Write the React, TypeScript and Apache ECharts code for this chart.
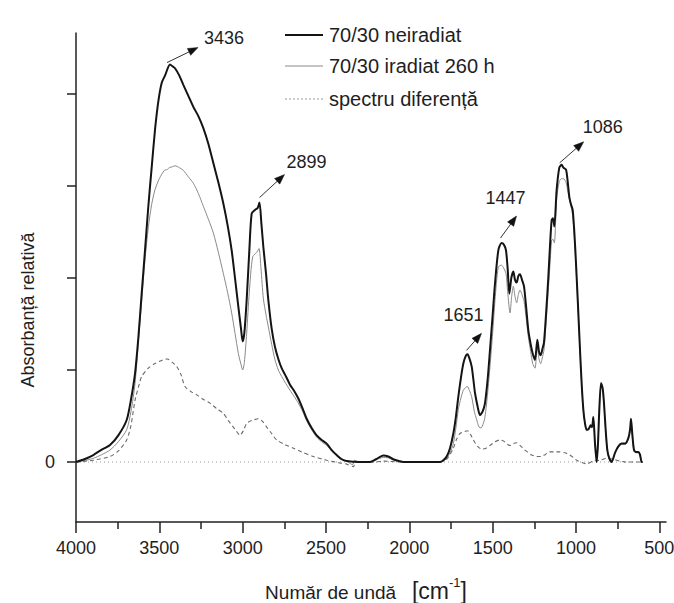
import React, { useEffect, useRef } from "react";
import * as echarts from "echarts";

// ---------- data (wavenumber cm-1 / relative absorbance, in axis tick units) ----------
const neiradiatWn = [4000, 3950, 3896, 3850, 3796, 3746, 3696, 3670, 3646, 3626, 3606, 3586, 3566, 3546, 3526, 3506, 3486, 3466, 3436, 3420, 3406, 3380, 3356, 3326, 3296, 3266, 3236, 3206, 3176, 3146, 3116, 3090, 3066, 3046, 3026, 3010, 3000, 2990, 2976, 2960, 2946, 2926, 2910, 2899, 2888, 2876, 2860, 2846, 2826, 2806, 2786, 2766, 2740, 2716, 2690, 2666, 2640, 2616, 2586, 2556, 2526, 2496, 2466, 2436, 2406, 2376, 2300, 2236, 2200, 2156, 2126, 2096, 2060, 2036, 1816, 1796, 1776, 1756, 1736, 1720, 1706, 1690, 1676, 1662, 1651, 1640, 1626, 1616, 1606, 1590, 1576, 1560, 1546, 1530, 1516, 1500, 1486, 1466, 1447, 1432, 1420, 1410, 1400, 1388, 1376, 1366, 1356, 1346, 1336, 1324, 1312, 1300, 1286, 1272, 1260, 1246, 1232, 1222, 1212, 1200, 1192, 1180, 1166, 1156, 1146, 1138, 1130, 1116, 1100, 1086, 1076, 1060, 1050, 1040, 1030, 1020, 1010, 1000, 988, 976, 966, 956, 946, 936, 924, 912, 904, 896, 886, 876, 868, 862, 850, 840, 832, 822, 812, 800, 786, 766, 746, 726, 706, 686, 676, 670, 662, 652, 640, 626, 616, 606, 600];
const neiradiatAbs = [0, 0.03, 0.076, 0.13, 0.185, 0.29, 0.457, 0.68, 0.96, 1.35, 1.83, 2.3, 2.78, 3.2, 3.61, 3.92, 4.12, 4.2, 4.32, 4.3, 4.28, 4.2, 4.1, 3.98, 3.86, 3.76, 3.63, 3.46, 3.25, 3.04, 2.81, 2.57, 2.3, 2.0, 1.69, 1.45, 1.31, 1.4, 1.76, 2.3, 2.7, 2.74, 2.76, 2.82, 2.6, 2.34, 2.05, 1.76, 1.45, 1.25, 1.12, 1.02, 0.93, 0.84, 0.77, 0.69, 0.58, 0.47, 0.37, 0.29, 0.24, 0.2, 0.13, 0.076, 0.03, 0.01, 0, 0, 0.03, 0.07, 0.06, 0.03, 0.01, 0, 0, 0.02, 0.06, 0.15, 0.31, 0.5, 0.71, 0.92, 1.07, 1.15, 1.17, 1.13, 1.04, 0.9, 0.75, 0.6, 0.51, 0.55, 0.64, 0.9, 1.22, 1.6, 1.94, 2.3, 2.38, 2.36, 2.3, 2.1, 1.83, 2.0, 2.07, 1.98, 1.95, 2.02, 2.04, 1.98, 1.91, 1.7, 1.43, 1.28, 1.18, 1.11, 1.33, 1.2, 1.16, 1.24, 1.3, 1.6, 2.01, 2.35, 2.63, 2.65, 2.56, 2.96, 3.2, 3.23, 3.2, 3.18, 3.05, 2.88, 2.8, 2.74, 2.5, 2.16, 1.7, 1.22, 0.85, 0.57, 0.42, 0.35, 0.36, 0.4, 0.38, 0.49, 0.2, 0, 0.2, 0.49, 0.86, 0.8, 0.64, 0.35, 0.13, 0.04, 0, 0.1, 0.17, 0.2, 0.2, 0.26, 0.35, 0.47, 0.3, 0.13, 0.11, 0.11, 0.08, 0, 0];

const iradiatWn = [4000, 3950, 3896, 3846, 3796, 3746, 3696, 3670, 3646, 3626, 3606, 3586, 3566, 3546, 3526, 3500, 3470, 3452, 3440, 3420, 3406, 3380, 3356, 3326, 3296, 3266, 3236, 3206, 3176, 3146, 3116, 3090, 3066, 3046, 3026, 3010, 3000, 2990, 2976, 2960, 2940, 2915, 2902, 2890, 2876, 2860, 2846, 2826, 2806, 2786, 2766, 2740, 2716, 2690, 2666, 2640, 2616, 2586, 2556, 2526, 2496, 2466, 2436, 2406, 2376, 2340, 2330, 2300, 2236, 2200, 2156, 2126, 2096, 2060, 2036, 1816, 1796, 1776, 1756, 1736, 1720, 1706, 1690, 1676, 1662, 1651, 1640, 1626, 1610, 1596, 1582, 1570, 1556, 1546, 1530, 1516, 1500, 1486, 1466, 1447, 1432, 1420, 1410, 1396, 1386, 1376, 1366, 1356, 1346, 1336, 1324, 1312, 1300, 1286, 1272, 1260, 1246, 1232, 1222, 1212, 1200, 1192, 1180, 1166, 1156, 1146, 1138, 1130, 1116, 1100, 1086, 1076, 1060, 1050, 1040, 1030, 1020, 1010, 1000, 988, 976, 966, 956, 946, 936, 924, 912, 904, 896, 886, 876, 868, 862, 850, 840, 832, 822, 812, 800, 786, 766, 746, 726, 706, 686, 676, 670, 662, 652, 640, 626, 616, 606, 600];
const iradiatAbs = [0, 0.015, 0.04, 0.08, 0.13, 0.22, 0.35, 0.55, 0.85, 1.3, 1.75, 2.2, 2.55, 2.8, 2.96, 3.08, 3.17, 3.18, 3.2, 3.21, 3.22, 3.2, 3.17, 3.1, 3.03, 2.92, 2.78, 2.64, 2.49, 2.28, 2.05, 1.84, 1.62, 1.4, 1.18, 1.06, 1.0, 1.08, 1.4, 1.85, 2.23, 2.28, 2.32, 2.1, 1.78, 1.6, 1.47, 1.28, 1.11, 1.0, 0.93, 0.85, 0.78, 0.71, 0.64, 0.55, 0.45, 0.35, 0.27, 0.22, 0.18, 0.12, 0.076, 0.035, 0.01, -0.03, 0.02, 0, 0, 0.025, 0.05, 0.045, 0.02, 0.005, 0, 0, 0.01, 0.04, 0.1, 0.2, 0.38, 0.57, 0.7, 0.78, 0.81, 0.82, 0.78, 0.71, 0.55, 0.46, 0.38, 0.37, 0.42, 0.49, 0.75, 1.04, 1.4, 1.76, 2.12, 2.14, 2.1, 2.05, 1.85, 1.62, 1.8, 1.91, 1.8, 1.73, 1.82, 1.87, 1.82, 1.75, 1.58, 1.36, 1.2, 1.07, 1.02, 1.25, 1.12, 1.07, 1.15, 1.22, 1.5, 1.87, 2.15, 2.41, 2.42, 2.38, 2.86, 3.05, 3.08, 3.08, 3.04, 2.95, 2.86, 2.78, 2.68, 2.45, 2.12, 1.68, 1.2, 0.84, 0.56, 0.41, 0.34, 0.35, 0.38, 0.37, 0.47, 0.2, 0, 0.19, 0.47, 0.84, 0.78, 0.62, 0.34, 0.12, 0.04, 0, 0.1, 0.16, 0.19, 0.19, 0.25, 0.33, 0.44, 0.28, 0.12, 0.1, 0.1, 0.07, 0, 0];

const diferentaWn = [4000, 3896, 3796, 3746, 3696, 3670, 3646, 3620, 3606, 3566, 3526, 3480, 3452, 3420, 3396, 3370, 3346, 3306, 3276, 3236, 3196, 3156, 3116, 3086, 3056, 3036, 3016, 2996, 2976, 2946, 2906, 2880, 2856, 2826, 2796, 2746, 2696, 2646, 2576, 2496, 2416, 2380, 2336, 2320, 2200, 2156, 2050, 1816, 1776, 1736, 1716, 1696, 1670, 1651, 1630, 1616, 1590, 1566, 1540, 1516, 1486, 1456, 1436, 1410, 1396, 1376, 1356, 1336, 1306, 1270, 1236, 1210, 1186, 1160, 1130, 1100, 1066, 1040, 1016, 996, 956, 936, 896, 856, 816, 776, 736, 700, 600];
const diferentaAbs = [0, 0.02, 0.06, 0.12, 0.24, 0.4, 0.67, 0.85, 0.93, 1.02, 1.07, 1.11, 1.12, 1.08, 1.04, 0.95, 0.82, 0.76, 0.73, 0.68, 0.64, 0.58, 0.53, 0.45, 0.38, 0.33, 0.29, 0.34, 0.42, 0.45, 0.47, 0.44, 0.38, 0.31, 0.24, 0.19, 0.15, 0.11, 0.06, 0.02, -0.01, -0.02, -0.05, 0, 0, 0.01, 0, 0, 0.03, 0.15, 0.25, 0.31, 0.33, 0.34, 0.29, 0.24, 0.17, 0.14, 0.15, 0.18, 0.22, 0.24, 0.23, 0.19, 0.18, 0.2, 0.21, 0.18, 0.13, 0.08, 0.06, 0.06, 0.08, 0.11, 0.11, 0.11, 0.1, 0.08, 0.05, 0.02, -0.01, -0.02, 0.01, 0.02, 0.04, 0.03, 0.01, 0, 0];

const baselineWn = [4000, 600];
const baselineAbs = [0, 0];

const seriesNames = ["70/30 neiradiat", "70/30 iradiat 260 h", "spectru diferență"];

const xMajorTicks = [4000, 3500, 3000, 2500, 2000, 1500, 1000, 500];
const xMinorTicks = [3750, 3250, 2750, 2250, 1750, 1250, 750];
const yTicks = [0, 1, 2, 3, 4];
const yLabels = [0];

const peakLabels = ["3436", "2899", "1651", "1447", "1086"];
const peakWn = [3436, 2899, 1651, 1447, 1086];

// ---------- styling ----------
const FONT = "'Liberation Sans', Arial, Helvetica, sans-serif";
const TXT = "#1e1e1e";
const AX = "#222";
const seriesColors = ["#141414", "#8a8a8a", "#6a6a6a"];
const seriesWidths = [2, 1, 1.1];
const seriesDash: any[] = ["solid", "solid", [4, 3]];
const legendDash: any[] = ["solid", "solid", [2, 2]];
const legendColors = ["#141414", "#8a8a8a", "#9a9a9a"];
// arrow start / tip / label offsets in px relative to each peak
const arrowStart = [[-3, -2], [0, -5], [-1, -4], [-1, -5], [-2, -2]];
const arrowTip = [[28, -17], [25, -28], [14, -21], [15, -27], [22, -23]];
const labelOff = [[54, -27], [47, -41], [-4, -39], [4, -45], [41, -38]];
const legendRows = [35, 66, 99];

const zip = (a: number[], b: number[]) => a.map((w, i) => [w, b[i]]);

export default function App() {
  const ref = useRef<HTMLDivElement>(null);
  useEffect(() => {
    if (!ref.current) return;
    const chart = echarts.init(ref.current, null, { renderer: "svg" });
    const lineSeries = (i: number, wn: number[], ab: number[], z: number) => ({
      name: seriesNames[i],
      type: "line",
      data: zip(wn, ab),
      showSymbol: false,
      symbol: "none",
      smooth: 0.25,
      z,
      lineStyle: { color: seriesColors[i], width: seriesWidths[i], type: seriesDash[i] },
      itemStyle: { color: seriesColors[i] },
      emphasis: { disabled: true },
    });
    chart.setOption({
      animation: false,
      backgroundColor: "#ffffff",
      textStyle: { fontFamily: FONT },
      grid: { left: 76, top: 33, width: 590, height: 489, containLabel: false, outerBoundsMode: "none" },
      xAxis: [
        {
          type: "value",
          inverse: true,
          min: 460,
          max: 4000,
          axisLine: { show: true, onZero: false, lineStyle: { color: AX, width: 1.5 } },
          axisTick: { show: true, inside: false, length: 11, customValues: xMajorTicks, lineStyle: { color: AX, width: 1.5 } },
          axisLabel: { customValues: xMajorTicks, formatter: (v: number) => String(v), fontSize: 18, color: TXT, margin: 17, fontFamily: FONT },
          splitLine: { show: false },
        },
        {
          type: "value",
          inverse: true,
          min: 460,
          max: 4000,
          position: "bottom",
          axisLine: { show: false, onZero: false },
          axisTick: { show: true, inside: false, length: 7, customValues: xMinorTicks, lineStyle: { color: AX, width: 1.5 } },
          axisLabel: { show: false },
          splitLine: { show: false },
        },
      ],
      yAxis: {
        type: "value",
        min: -0.652,
        max: 4.663,
        axisLine: { show: true, onZero: false, lineStyle: { color: AX, width: 1.5 } },
        axisTick: { show: true, inside: false, length: 9, customValues: yTicks, lineStyle: { color: AX, width: 1.5 } },
        axisLabel: { customValues: yLabels, formatter: (v: number) => String(v), fontSize: 18, color: TXT, margin: 21, fontFamily: FONT },
        splitLine: { show: false },
      },
      series: [
        {
          name: "baseline",
          type: "line",
          data: zip(baselineWn, baselineAbs),
          showSymbol: false,
          symbol: "none",
          z: 1,
          silent: true,
          lineStyle: { color: "#9a9a9a", width: 1, type: [1, 3] },
        },
        lineSeries(2, diferentaWn, diferentaAbs, 2),
        lineSeries(1, iradiatWn, iradiatAbs, 3),
        lineSeries(0, neiradiatWn, neiradiatAbs, 4),
      ],
    });

    const graphics: any[] = [];
    peakWn.forEach((w, i) => {
      const idx = neiradiatWn.indexOf(w);
      const v = neiradiatAbs[idx];
      const p = chart.convertToPixel({ xAxisIndex: 0, yAxisIndex: 0 }, [w, v]) as number[];
      const sx = p[0] + arrowStart[i][0];
      const sy = p[1] + arrowStart[i][1];
      const tx = p[0] + arrowTip[i][0];
      const ty = p[1] + arrowTip[i][1];
      const dx = tx - sx;
      const dy = ty - sy;
      const len = Math.sqrt(dx * dx + dy * dy);
      const ux = dx / len;
      const uy = dy / len;
      const hl = 10;
      const hw = 3.8;
      const bx = tx - ux * hl;
      const by = ty - uy * hl;
      graphics.push({
        type: "line",
        silent: true,
        z: 10,
        shape: { x1: sx, y1: sy, x2: bx + ux * 2, y2: by + uy * 2 },
        style: { stroke: "#333", lineWidth: 1 },
      });
      graphics.push({
        type: "polygon",
        silent: true,
        z: 10,
        shape: { points: [[tx, ty], [bx - uy * hw, by + ux * hw], [bx + uy * hw, by - ux * hw]] },
        style: { fill: "#111", stroke: "#111", lineWidth: 0.5 },
      });
      graphics.push({
        type: "text",
        silent: true,
        z: 10,
        x: p[0] + labelOff[i][0],
        y: p[1] + labelOff[i][1],
        style: { text: peakLabels[i], fontSize: 18, fill: TXT, fontFamily: FONT, align: "center", verticalAlign: "middle" },
      });
    });
    // legend
    seriesNames.forEach((name, i) => {
      const y = legendRows[i];
      graphics.push({
        type: "line",
        silent: true,
        z: 10,
        shape: { x1: 285, y1: y, x2: 323, y2: y },
        style: { stroke: legendColors[i], lineWidth: seriesWidths[i], lineDash: legendDash[i] === "solid" ? null : legendDash[i] },
      });
      graphics.push({
        type: "text",
        silent: true,
        z: 10,
        x: 329,
        y,
        style: { text: name, fontSize: 20, fill: TXT, fontFamily: FONT, align: "left", verticalAlign: "middle" },
      });
    });
    graphics.push({
      type: "text",
      silent: true,
      x: 28,
      y: 310,
      rotation: Math.PI / 2,
      style: { text: "Absorbanță relativă", fontSize: 18, fill: TXT, fontFamily: FONT, align: "center", verticalAlign: "middle" },
    });
    graphics.push({
      type: "text",
      silent: true,
      x: 366,
      y: 589,
      style: {
        text: "{a|Număr de undă   }{b|[cm}{s|-1}{b|]}",
        fontFamily: FONT,
        fill: TXT,
        align: "center",
        verticalAlign: "middle",
        rich: {
          a: { fontSize: 19, fontFamily: FONT, fill: TXT, lineHeight: 26, verticalAlign: "bottom" },
          b: { fontSize: 23, fontFamily: FONT, fill: TXT, lineHeight: 26, verticalAlign: "bottom" },
          s: { fontSize: 13, fontFamily: FONT, fill: TXT, lineHeight: 26, verticalAlign: "top" },
        },
      },
    });
    chart.setOption({ graphic: graphics });
    return () => chart.dispose();
  }, []);
  return (
    <div
      ref={ref}
      style={{ position: "absolute", left: 0, top: 0, width: 674, height: 603, background: "#fff" }}
    />
  );
}
